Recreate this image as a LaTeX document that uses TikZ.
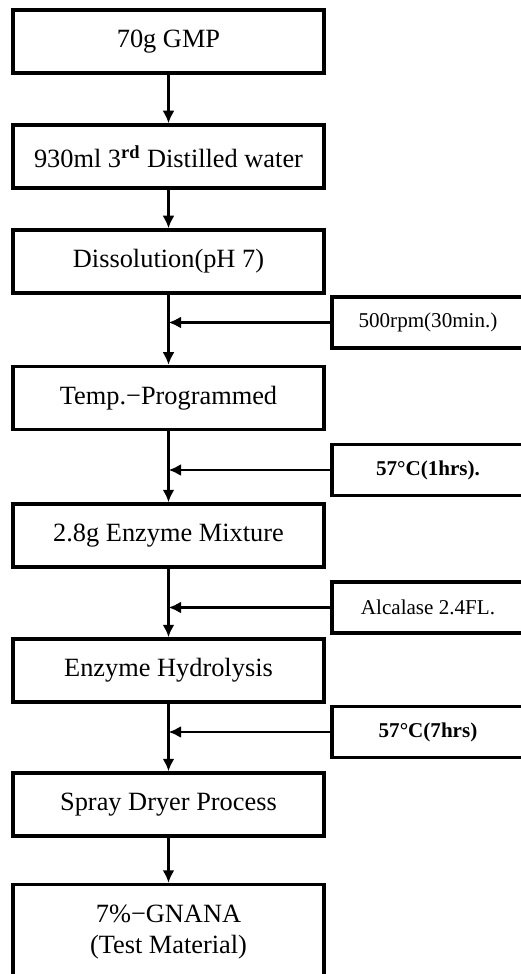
\documentclass[tikz,border=0pt]{standalone}
\usepackage{fontspec}
\setmainfont{Liberation Serif}
\usetikzlibrary{arrows.meta}

\begin{document}
\begin{tikzpicture}

\tikzset{process/.style = {shape=rectangle,draw,line width=2pt,minimum width=6.22cm,minimum height=1.26cm,align=center,font=\fontsize{15}{18}\selectfont}}
\tikzset{condition/.style = {shape=rectangle,draw,line width=2pt,minimum width=3.84cm,minimum height=1.02cm,font=\fontsize{12}{14}\selectfont}}
\tikzset{edge/.style = {->,> = {Latex[length=0.25cm,width=0.24cm]},line width=1.4pt}}
\useasboundingbox (0,0) rectangle (10.42,-19.48);
%steps
\node[process] (1) at (3.37,-0.83) {70g GMP};
\node[process] (2) at (3.37,-3.13) {930ml 3\textsuperscript{\textbf{rd}} Distilled water};
\node[process] (3) at (3.37,-5.23) {Dissolution(pH 7)};
\node[process] (4) at (3.37,-7.96) {Temp.−Programmed};
\node[process] (5) at (3.37,-10.71) {2.8g Enzyme Mixture};
\node[process] (6) at (3.37,-13.41) {Enzyme Hydrolysis};
\node[process] (7) at (3.37,-16.09) {Spray Dryer Process};
\node[process, minimum height=1.9cm] (8) at (3.37,-18.64) {7\%−GNANA\\(Test Material)};
%conditions
\node[condition] (a) at (8.56,-6.45) {500rpm(30min.)};
\node[condition] (b) at (8.56,-9.40) {\textbf{57°C(1hrs).}};
\node[condition] (c) at (8.56,-12.15) {Alcalase 2.4FL.};
\node[condition] (d) at (8.56,-14.64) {\textbf{57°C(7hrs)}};
%edges
\draw [edge] (1) -- (2);
\draw [edge] (2) -- (3);
\draw [edge] (3) -- (4);
\draw [edge] (4) -- (5);
\draw [edge] (5) -- (6);
\draw [edge] (6) -- (7);
\draw [edge] (7) -- (8);
\draw [edge] (a.west) -- (a.west -| 3.south);
\draw [edge] (b.west) -- (b.west -| 4.south);
\draw [edge] (c.west) -- (c.west -| 5.south);
\draw [edge] (d.west) -- (d.west -| 6.south);

\end{tikzpicture}
\end{document}
